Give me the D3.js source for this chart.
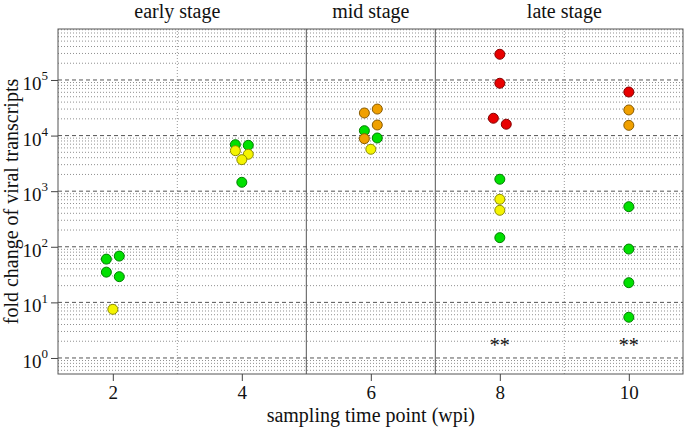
<!DOCTYPE html>
<html>
<head>
<meta charset="utf-8">
<script src="https://cdn.jsdelivr.net/npm/d3@7"></script>
<style>
  body { margin: 0; background: #fff; }
  svg text { font-family: "Liberation Serif", "DejaVu Serif", serif; fill: #111; }
</style>
</head>
<body>
<div id="chart"></div>
<script>
// sampling weeks and stage labels
var weeks = [2, 4, 6, 8, 10];
var stages = ["early stage", "mid stage", "late stage"];
var stageCentres = [3, 6, 9];
var decades = [0, 1, 2, 3, 4, 5];

// one entry per plant sample: week, side slot (-1 left, 0 centre, 1 right), fold change, level
var pointWeek  = [2, 2, 2, 2, 2,
                  4, 4, 4, 4, 4, 4,
                  6, 6, 6, 6, 6, 6, 6,
                  8, 8, 8, 8, 8, 8, 8, 8,
                  10, 10, 10, 10, 10, 10, 10];
var pointSlot  = [-1, 1, -1, 1, 0,
                  -1, -1, 1, 1, 0, 0,
                  -1, 1, 1, -1, -1, 1, 0,
                  0, 0, -1, 1, 0, 0, 0, 0,
                  0, 0, 0, 0, 0, 0, 0];
var pointValue = [60, 68, 35, 29, 7.5,
                  6860, 5350, 6690, 4610, 3690, 1445,
                  25500, 30000, 15500, 12250, 8800, 9050, 5670,
                  290000, 87300, 20500, 16000, 1640, 715, 453, 146,
                  60800, 28900, 15300, 526, 91, 22.6, 5.4];
var pointLevel = ["low", "low", "low", "low", "mid",
                  "low", "mid", "low", "mid", "mid", "low",
                  "high", "high", "high", "low", "high", "low", "mid",
                  "top", "top", "top", "top", "low", "mid", "mid", "low",
                  "top", "high", "high", "low", "low", "low", "low"];

// weeks with a "**" mark near the bottom
var starWeeks = [8, 10];
var starValue = 1.95;

var levelColour = {low: "#00e000", mid: "#f4f400", high: "#f0a000", top: "#e80000"};

function init() {
    var w = 685;
    var h = 434;
    var margin = {top: 29, right: 2, bottom: 60, left: 58};

    var svg = d3.select("#chart")
        .append("svg")
        .attr("width", w)
        .attr("height", h);

    var xScale = d3.scaleLinear()
        .domain([1.15, 10.84])
        .range([margin.left, w - margin.right]);

    var yScale = d3.scaleLog()
        .domain([0.515, 826000])
        .range([h - margin.bottom, margin.top]);

    var yMin = yScale.domain()[0], yMax = yScale.domain()[1];

    // minor grid lines (2..9 within each decade)
    var minor = [];
    for (var k = -1; k <= 5; k++) {
        for (var m = 2; m <= 9; m++) {
            var v = m * Math.pow(10, k);
            if (v > yMin && v < yMax) minor.push(v);
        }
    }

    svg.selectAll("line.minor")
        .data(minor)
        .enter()
        .append("line")
        .attr("class", "minor")
        .attr("x1", xScale.range()[0])
        .attr("x2", xScale.range()[1])
        .attr("y1", d => yScale(d))
        .attr("y2", d => yScale(d))
        .attr("stroke", "#909090")
        .attr("stroke-width", 1)
        .attr("stroke-dasharray", "1,2");

    svg.selectAll("line.major")
        .data(decades)
        .enter()
        .append("line")
        .attr("class", "major")
        .attr("x1", xScale.range()[0])
        .attr("x2", xScale.range()[1])
        .attr("y1", d => yScale(Math.pow(10, d)))
        .attr("y2", d => yScale(Math.pow(10, d)))
        .attr("stroke", "#555")
        .attr("stroke-width", 1)
        .attr("stroke-dasharray", "4,3");

    // stage separators
    svg.selectAll("line.sep")
        .data([3, 5, 7, 9])
        .enter()
        .append("line")
        .attr("class", "sep")
        .attr("x1", d => xScale(d))
        .attr("x2", d => xScale(d))
        .attr("y1", yScale.range()[0])
        .attr("y2", yScale.range()[1])
        .attr("stroke", d => (d === 5 || d === 7) ? "#555" : "#999")
        .attr("stroke-width", 1)
        .attr("stroke-dasharray", d => (d === 5 || d === 7) ? null : "1,2");

    // box
    svg.append("rect")
        .attr("x", xScale.range()[0])
        .attr("y", yScale.range()[1])
        .attr("width", xScale.range()[1] - xScale.range()[0])
        .attr("height", yScale.range()[0] - yScale.range()[1])
        .attr("fill", "none")
        .attr("stroke", "#555")
        .attr("stroke-width", 1);

    // axes
    var xAxis = d3.axisBottom(xScale)
        .tickValues(weeks)
        .tickSize(7)
        .tickPadding(5)
        .tickSizeOuter(0);

    var gx = svg.append("g")
        .attr("transform", "translate(0," + (h - margin.bottom) + ")")
        .call(xAxis);
    gx.select(".domain").remove();
    gx.selectAll(".tick line").attr("stroke", "#444");
    gx.selectAll(".tick text")
        .attr("font-size", "19px")
        .attr("fill", "#111");

    var yAxis = d3.axisLeft(yScale)
        .tickValues(decades.map(d => Math.pow(10, d)))
        .tickSize(7)
        .tickPadding(3)
        .tickFormat(d => "10");

    var gy = svg.append("g")
        .attr("transform", "translate(" + margin.left + ",0)")
        .call(yAxis);
    gy.select(".domain").remove();
    gy.selectAll(".tick line").attr("stroke", "#444");
    gy.selectAll(".tick text")
        .attr("font-size", "19px")
        .attr("fill", "#111")
        .attr("dy", "0.5em")
        .each(function(d) {
            d3.select(this).append("tspan")
                .attr("font-size", "13px")
                .attr("dy", "-0.75em")
                .text(Math.round(Math.log10(d)));
        });

    // stage labels
    svg.selectAll("text.stage")
        .data(stages)
        .enter()
        .append("text")
        .attr("class", "stage")
        .attr("x", (d, i) => xScale(stageCentres[i]))
        .attr("y", 18)
        .attr("text-anchor", "middle")
        .attr("font-size", "20px")
        .text(d => d);

    // points
    var points = pointValue.map((v, i) => ({
        x: pointWeek[i] + pointSlot[i] * 0.1,
        v: v,
        c: levelColour[pointLevel[i]]
    }));

    svg.selectAll("circle")
        .data(points)
        .enter()
        .append("circle")
        .attr("cx", d => xScale(d.x))
        .attr("cy", d => yScale(d.v))
        .attr("r", 5)
        .attr("fill", d => d.c)
        .attr("stroke", d => d3.color(d.c).darker(1.6))
        .attr("stroke-width", 1);

    svg.selectAll("text.star")
        .data(starWeeks)
        .enter()
        .append("text")
        .attr("class", "star")
        .attr("x", d => xScale(d))
        .attr("y", yScale(starValue) + 10)
        .attr("text-anchor", "middle")
        .attr("font-size", "20px")
        .text("**");

    // axis titles
    svg.append("text")
        .attr("x", xScale(6))
        .attr("y", 422)
        .attr("text-anchor", "middle")
        .attr("font-size", "20px")
        .text("sampling time point (wpi)");

    svg.append("text")
        .attr("transform", "rotate(-90)")
        .attr("x", -(margin.top + (h - margin.bottom)) / 2)
        .attr("y", 18)
        .attr("text-anchor", "middle")
        .attr("font-size", "20px")
        .text("fold change of viral transcripts");
}

window.onload = init;
</script>
</body>
</html>
